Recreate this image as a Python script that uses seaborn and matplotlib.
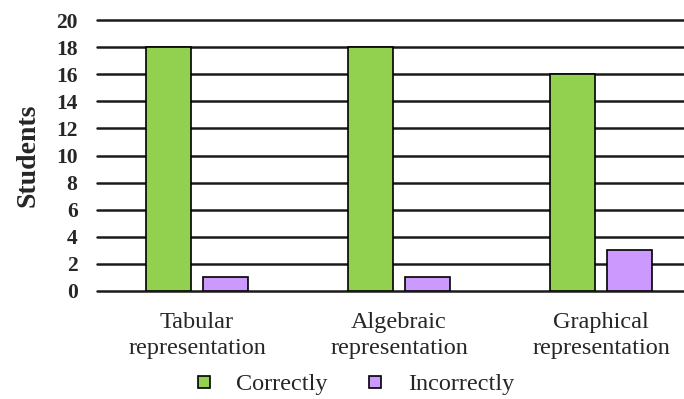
import matplotlib
matplotlib.use("Agg")
import matplotlib.pyplot as plt
from matplotlib.lines import Line2D
import seaborn as sns
import pandas as pd

categories = ["Tabular\nrepresentation", "Algebraic\nrepresentation", "Graphical\nrepresentation"]
correctly = [18, 18, 16]
incorrectly = [1, 1, 3]
series_names = ["Correctly", "Incorrectly"]
y_ticks = [0, 2, 4, 6, 8, 10, 12, 14, 16, 18, 20]

colors = ["#92D050", "#CC99FF"]

df = pd.DataFrame({
    "category": categories * 2,
    "students": correctly + incorrectly,
    "answer": [series_names[0]] * len(categories) + [series_names[1]] * len(categories),
})

sns.set_theme(style="white")
plt.rcParams["font.family"] = ["Liberation Serif", "DejaVu Serif"]

fig = plt.figure(figsize=(6.84, 3.99), dpi=100)
ax = fig.add_axes([97 / 684, 1 - 291 / 399, 1 - 97 / 684, (291 - 20) / 399])

sns.barplot(
    data=df, x="category", y="students", hue="answer",
    palette=colors, width=0.564, gap=0.21,
    edgecolor="black", linewidth=1.2, saturation=1,
    legend=False, ax=ax,
)

ax.set_ylim(0, 20)
ax.set_xlim(-0.495, 2.41)
ax.set_yticks(y_ticks)
ax.set_yticklabels([str(t) for t in y_ticks], fontweight="bold", fontsize=15.5)
ax.tick_params(axis="y", length=0, pad=14)
ax.tick_params(axis="x", length=0, pad=15, labelsize=17.5)
ax.set_xlabel("")
ax.set_ylabel("Students", fontsize=20, fontweight="bold", labelpad=11)
for lbl in ax.get_xticklabels():
    lbl.set_linespacing(1.35)

ax.set_axisbelow(True)
ax.yaxis.grid(True, color="#1a1a1a", linewidth=1.8)
for gl in ax.yaxis.get_gridlines():
    gl.set_clip_on(False)
ax.xaxis.grid(False)
for s in ax.spines.values():
    s.set_visible(False)

handles = [
    Line2D([], [], marker="s", linestyle="", markersize=9,
           markerfacecolor=c, markeredgecolor="black", markeredgewidth=1.2)
    for c in colors
]
fig.legend(handles, series_names, loc="lower center", bbox_to_anchor=(0.516, -0.045),
           ncol=2, frameon=False, fontsize=17.5, handlelength=1.0,
           handletextpad=0.85, columnspacing=1.45)

fig.savefig("out.png", dpi=100)
